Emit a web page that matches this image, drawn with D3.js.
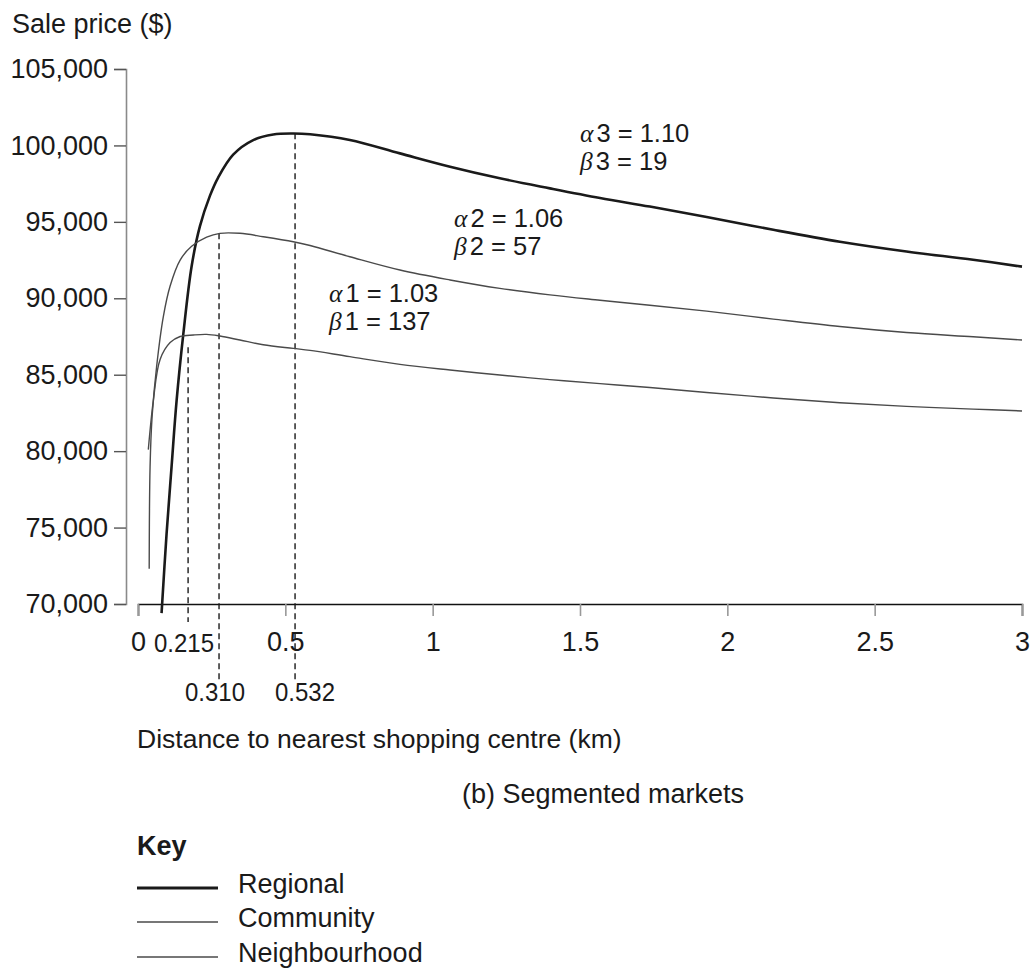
<!DOCTYPE html>
<html>
<head>
<meta charset="utf-8">
<script src="https://cdn.jsdelivr.net/npm/d3@7"></script>
<style>
  html, body { margin: 0; padding: 0; background: #fff; }
  svg { display: block; }
  text { font-family: 'Liberation Sans', Arial, sans-serif; fill: #1a1a1a; }
</style>
</head>
<body>
<div id="chart"></div>
<script>
// distance (km), sale price ($)
const regional = [
  [0.080, 69400], [0.097, 74600], [0.114, 79000], [0.131, 83300], [0.154, 87700],
  [0.182, 92100], [0.210, 94700], [0.244, 96700], [0.272, 97900], [0.323, 99400],
  [0.391, 100350], [0.459, 100720], [0.527, 100780], [0.584, 100730], [0.719, 100360],
  [0.889, 99480], [1.059, 98610], [1.228, 97850], [1.398, 97190], [1.568, 96560],
  [1.737, 96000], [1.930, 95320], [2.156, 94480], [2.382, 93700], [2.608, 93060],
  [2.834, 92520], [3.0, 92070]
];
const community = [
  [0.038, 72300], [0.041, 79000], [0.048, 82300], [0.063, 85500], [0.086, 88800],
  [0.109, 90800], [0.143, 92500], [0.182, 93400], [0.233, 94000], [0.278, 94250],
  [0.346, 94250], [0.425, 94030], [0.527, 93700], [0.584, 93450], [0.719, 92720],
  [0.889, 91850], [1.059, 91200], [1.228, 90650], [1.398, 90220], [1.568, 89870],
  [1.737, 89540], [1.930, 89160], [2.156, 88640], [2.382, 88150], [2.608, 87760],
  [2.834, 87480], [3.0, 87270]
];
const neighbourhood = [
  [0.035, 80100], [0.052, 83300], [0.075, 86000], [0.109, 87100], [0.143, 87500],
  [0.188, 87600], [0.233, 87640], [0.278, 87530], [0.346, 87270], [0.425, 86960],
  [0.527, 86720], [0.584, 86590], [0.719, 86180], [0.889, 85680], [1.059, 85310],
  [1.228, 84980], [1.398, 84680], [1.568, 84420], [1.737, 84160], [1.930, 83840],
  [2.156, 83480], [2.382, 83170], [2.608, 82930], [2.834, 82750], [3.0, 82630]
];

const yTicks = [70000, 75000, 80000, 85000, 90000, 95000, 100000, 105000];
const xTicks = [0, 0.5, 1, 1.5, 2, 2.5, 3];

// dashed peak markers: drawn position, top price, label
const peakDist = [0.170, 0.275, 0.533];
const peakTop = [86800, 94250, 100790];
const peakLabels = ['0.215', '0.310', '0.532'];

const paramGreek = [['α', 'β'], ['α', 'β'], ['α', 'β']];
const paramText = [['1 = 1.03', '1 = 137'], ['2 = 1.06', '2 = 57'], ['3 = 1.10', '3 = 19']];

const seriesNames = ['Regional', 'Community', 'Neighbourhood'];

const width = 1035, height = 971;
const fs = 27;

const svg = d3.select('#chart').append('svg')
  .attr('width', width).attr('height', height);

const x = d3.scaleLinear().domain([0, 3]).range([138, 1022]);
const y = d3.scaleLinear().domain([70000, 105000]).range([604, 69]);

// y axis
const yAxis = svg.append('g')
  .attr('transform', 'translate(126,0)')
  .call(d3.axisLeft(y).tickValues(yTicks).tickSize(12).tickPadding(6).tickFormat(d3.format(',')));
yAxis.select('.domain').attr('stroke', '#8a8a8a').attr('stroke-width', 1.6);
yAxis.selectAll('.tick line').attr('stroke', '#555').attr('stroke-width', 1.4);
yAxis.selectAll('.tick text').attr('font-size', fs).attr('fill', '#1a1a1a')
  .attr('font-family', "'Liberation Sans', Arial, sans-serif");

// x axis
const xAxis = svg.append('g')
  .attr('transform', 'translate(0,604)')
  .call(d3.axisBottom(x).tickValues(xTicks).tickSize(12).tickPadding(16).tickFormat(d => String(d)));
xAxis.select('.domain').attr('stroke', '#111').attr('stroke-width', 1.6);
xAxis.selectAll('.tick line').attr('stroke', '#999').attr('stroke-width', 1.6);
xAxis.selectAll('.tick text').attr('font-size', fs).attr('fill', '#1a1a1a')
  .attr('font-family', "'Liberation Sans', Arial, sans-serif");

// dashed peak lines
const dashBottom = [622, 681, 681];
svg.append('g').selectAll('line')
  .data(peakDist).enter().append('line')
  .attr('x1', d => x(d)).attr('x2', d => x(d))
  .attr('y1', (d, i) => y(peakTop[i]))
  .attr('y2', (d, i) => dashBottom[i])
  .attr('stroke', '#1a1a1a').attr('stroke-width', 1.4)
  .attr('stroke-dasharray', '6,4');

// peak labels (narrow, as in the print)
const peakLabelPos = [[184, 652], [215, 701], [305, 701]];
svg.append('g').selectAll('text')
  .data(peakLabels).enter().append('text')
  .attr('x', (d, i) => peakLabelPos[i][0] - 30)
  .attr('y', (d, i) => peakLabelPos[i][1])
  .attr('font-size', 26)
  .attr('fill', (d, i) => i === 0 ? '#1a1a1a' : '#333')
  .attr('textLength', 60).attr('lengthAdjust', 'spacingAndGlyphs')
  .text(d => d);

// curves
const line = d3.line().x(d => x(d[0])).y(d => y(d[1])).curve(d3.curveCatmullRom.alpha(0.5));
const seriesData = [regional, community, neighbourhood];
const seriesWidth = [2.6, 1.4, 1.4];
const seriesColor = ['#1a1a1a', '#4a4a4a', '#4a4a4a'];
svg.append('g').selectAll('path')
  .data(seriesData).enter().append('path')
  .attr('d', line)
  .attr('fill', 'none')
  .attr('stroke', (d, i) => seriesColor[i])
  .attr('stroke-width', (d, i) => seriesWidth[i]);

// parameter annotations
const paramPos = [[329, 302], [454, 227], [580, 142]];
paramPos.forEach((p, i) => {
  [0, 1].forEach(j => {
    const t = svg.append('text').attr('x', p[0]).attr('y', p[1] + j * 28).attr('font-size', 25.5);
    t.append('tspan').attr('font-family', "'Liberation Serif', 'DejaVu Serif', serif")
      .attr('font-style', 'italic').text(paramGreek[i][j]);
    t.append('tspan').attr('dx', 3).text(paramText[i][j]);
  });
});

// titles
svg.append('text').attr('x', 12).attr('y', 33).attr('font-size', fs).text('Sale price ($)');
svg.append('text').attr('x', 137).attr('y', 748).attr('font-size', 26.5)
  .text('Distance to nearest shopping centre (km)');
svg.append('text').attr('x', 462).attr('y', 803).attr('font-size', fs)
  .text('(b) Segmented markets');

// key
svg.append('text').attr('x', 137).attr('y', 855).attr('font-size', fs)
  .attr('font-weight', 'bold').text('Key');
const keyY = [888, 922, 957];
const key = svg.append('g').selectAll('g')
  .data(seriesNames).enter().append('g');
key.append('line')
  .attr('x1', 137).attr('x2', 218)
  .attr('y1', (d, i) => keyY[i]).attr('y2', (d, i) => keyY[i])
  .attr('stroke', (d, i) => seriesColor[i])
  .attr('stroke-width', (d, i) => i === 0 ? 3 : 1.6);
key.append('text')
  .attr('x', 238).attr('y', (d, i) => keyY[i] + 5)
  .attr('font-size', fs).text(d => d);
</script>
</body>
</html>
